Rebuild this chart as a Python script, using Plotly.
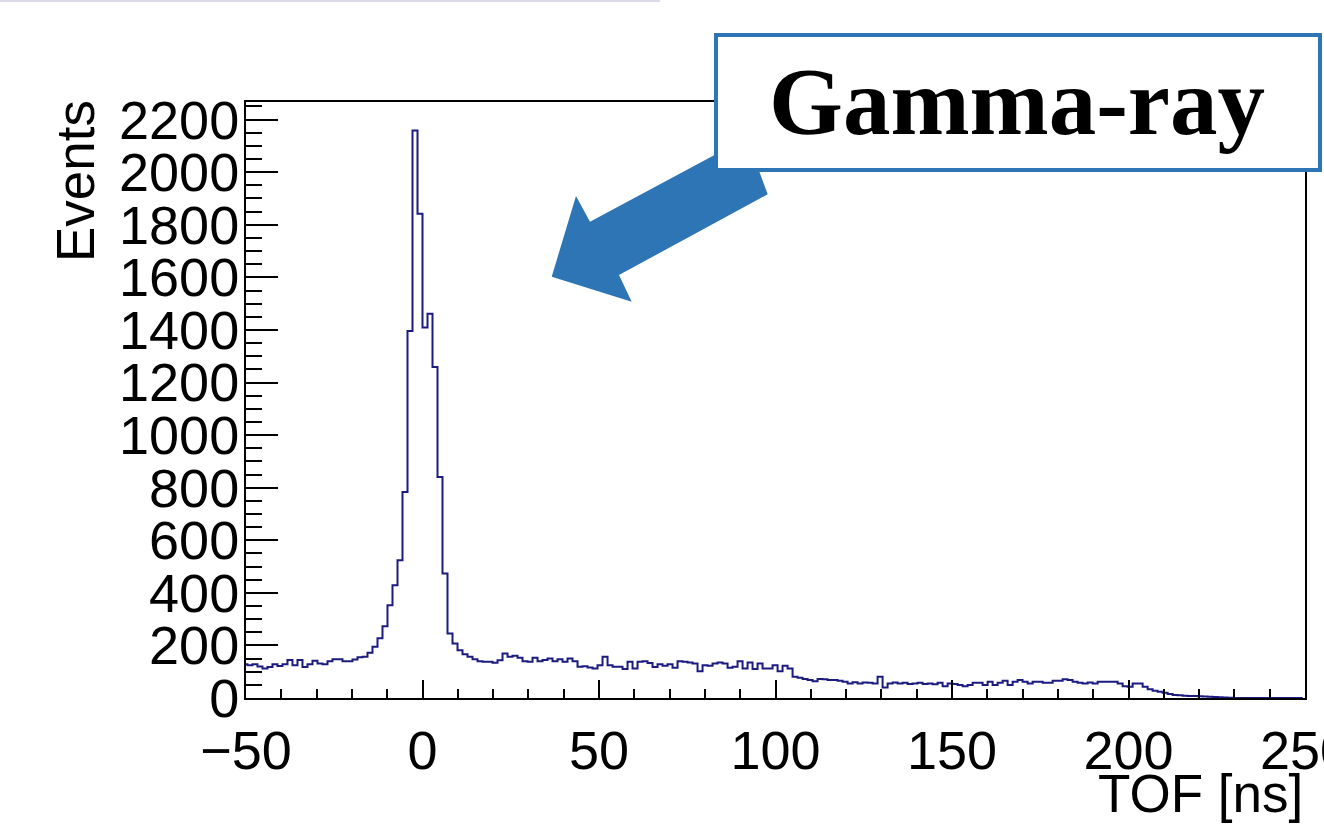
import numpy as np
import plotly.graph_objects as go

# Time-of-flight histogram: fixed-width bins, counts listed from the first bin
BIN_WIDTH = 1.4167          # ns
FIRST_BIN = -36             # index of the first bin (edge = index * BIN_WIDTH)
COUNTS = [
    128, 125, 128, 120, 112, 118, 128, 122, 128, 145, 125, 145, 118, 128, 142, 131,
    128, 140, 147, 147, 140, 140, 146, 155, 157, 172, 195, 227, 273, 353, 429, 524,
    784, 1396, 2159, 1842,
    1409, 1462, 1259, 841, 474, 245, 207, 182, 166, 157, 147, 140, 138, 138, 134, 144,
    169, 157, 161, 153, 140, 138, 153, 140, 145, 150, 140, 147, 138, 150, 140, 119,
    121, 116, 112, 125, 157, 125, 119, 119, 110, 138, 112, 138, 140, 133, 118, 128,
    123, 128, 115, 140, 138, 135, 131, 102, 125, 123, 131, 135, 131, 115, 119, 140,
    112, 135, 110, 131, 112, 112, 125, 102, 123, 112, 81, 77, 72, 68, 64, 72,
    71, 68, 68, 66, 62, 55, 60, 55, 59, 58, 55, 81, 40, 55, 59, 55,
    58, 53, 55, 58, 53, 55, 52, 58, 45, 55, 53, 49, 45, 49, 58, 58,
    49, 62, 49, 58, 66, 49, 62, 68, 62, 55, 62, 62, 58, 58, 66, 66,
    71, 68, 62, 58, 55, 59, 55, 62, 62, 62, 62, 55, 45, 43, 55, 55,
    43, 33, 28, 24, 20, 15, 11, 10, 9, 8, 8, 7, 6, 5, 4, 3,
    2, 1, 0, 0, 0, 0, 0, 0, 0, 0, 0, 0, 0, 0, 0, 0,
]

X_RANGE = [-50, 250]
Y_MAX = 2267
X_TITLE = "TOF [ns]"
Y_TITLE = "Events"
LABEL = "Gamma-ray"

counts = np.array(COUNTS, dtype=float)
edges = (FIRST_BIN + np.arange(len(counts) + 1)) * BIN_WIDTH
step_x = edges
step_y = np.append(counts, counts[-1])

W, H = 1324, 837
ML, MR, MT, MB = 246, 19, 102, 139
PW, PH = W - ML - MR, H - MT - MB


def px(x):
    """Page pixel column -> paper x."""
    return (x - ML) / PW


def py(y):
    """Page pixel row -> paper y."""
    return (H - MB - y) / PH


FONT = "Liberation Sans, Arial, Helvetica, sans-serif"
BLUE = "#2E75B6"

fig = go.Figure()
fig.add_trace(go.Scatter(
    x=step_x, y=step_y, mode="lines",
    line=dict(shape="hv", color="#1b1b80", width=2),
    hoverinfo="skip", showlegend=False,
))

axis_common = dict(
    showline=True, linewidth=2, linecolor="black", mirror=True,
    showgrid=False, zeroline=False, ticks="inside", tickwidth=2,
    tickcolor="black", tickfont=dict(family=FONT, size=54, color="black"),
    ticklabeloverflow="allow", automargin=False,
)
fig.update_xaxes(
    range=X_RANGE, dtick=50, tick0=0, ticklen=18, ticklabelstandoff=4,
    minor=dict(dtick=10, tick0=0, ticks="inside", ticklen=9, tickwidth=2,
               tickcolor="black"),
    **axis_common,
)
fig.update_yaxes(
    range=[0, Y_MAX], dtick=200, tick0=0, ticklen=32, ticklabelstandoff=-6,
    minor=dict(dtick=50, ticks="inside", ticklen=16, tickwidth=2, tickcolor="black"),
    **axis_common,
)

# Arrow pointing at the peak, and the labelled box
arrow = [(590, 221.7), (722, 151), (755, 160), (767.7, 194.3), (619, 275),
         (631.7, 301.7), (551.7, 276.7), (576, 196)]
path = "M " + " L ".join(f"{px(x):.5f},{py(y):.5f}" for x, y in arrow) + " Z"

shapes = [
    dict(type="path", xref="paper", yref="paper", path=path,
         fillcolor=BLUE, line=dict(width=0), layer="above"),
    dict(type="rect", xref="paper", yref="paper",
         x0=px(716), x1=px(1320), y0=py(170), y1=py(35),
         fillcolor="white", line=dict(color=BLUE, width=4), layer="above"),
    dict(type="line", xref="paper", yref="paper",
         x0=px(0), x1=px(660), y0=py(1), y1=py(1),
         line=dict(color="#dadaea", width=2), layer="above"),
]

annotations = [
    dict(text=f"<b>{LABEL}</b>", xref="paper", yref="paper", x=px(1017), y=py(102),
         xanchor="center", yanchor="middle", showarrow=False,
         font=dict(family="Liberation Serif, Times New Roman, serif", size=95,
                   color="black")),
    dict(text=Y_TITLE, xref="paper", yref="paper", x=px(75), y=py(181),
         xanchor="center", yanchor="middle", textangle=-90, showarrow=False,
         font=dict(family=FONT, size=53, color="black")),
    dict(text=X_TITLE, xref="paper", yref="paper", x=px(1305), y=py(793),
         xanchor="right", yanchor="middle", showarrow=False,
         font=dict(family=FONT, size=53, color="black")),
]

fig.update_layout(
    width=W, height=H,
    margin=dict(l=ML, r=MR, t=MT, b=MB, pad=0, autoexpand=False),
    paper_bgcolor="white", plot_bgcolor="white",
    shapes=shapes, annotations=annotations,
    showlegend=False,
)

fig.write_html("out.html", include_plotlyjs=True, config={"displayModeBar": False})
